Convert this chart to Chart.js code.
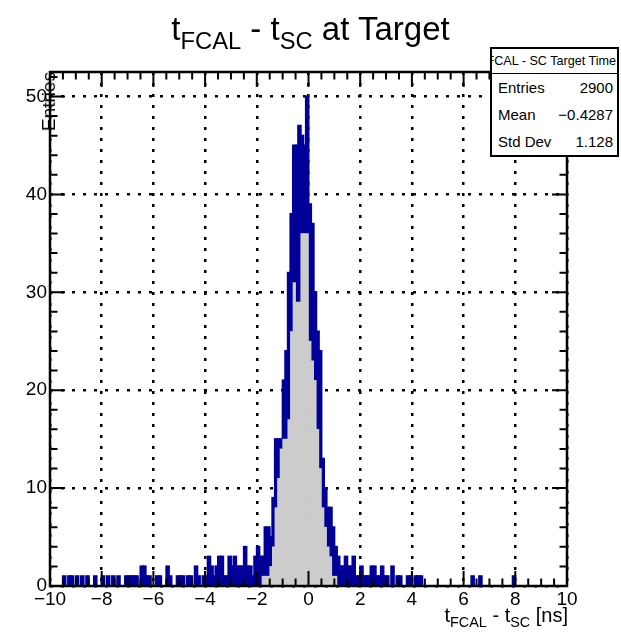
<!DOCTYPE html>
<html>
<head>
<meta charset="utf-8">
<script src="https://cdn.jsdelivr.net/npm/chart.js@4.4.1/dist/chart.umd.min.js"></script>
<style>
  html, body { margin: 0; padding: 0; background: #fff; }
  #wrap { position: relative; width: 621px; height: 636px; font-family: 'Liberation Sans', Arial, sans-serif; color: #000; }
  #c { position: absolute; left: 0; top: 0; }
  .txt { position: absolute; white-space: nowrap; }
  .txt sub { font-size: 0.72em; vertical-align: -0.38em; line-height: 0; }
  #title { left: 0; width: 621px; top: 12px; text-align: center; font-size: 33px; line-height: 33px; }
  #xtitle { right: 53px; top: 605px; font-size: 20px; line-height: 20px; }
  #ytitle { left: 39px; top: 72px; font-size: 19px; line-height: 19px; writing-mode: vertical-rl; transform: rotate(180deg); }
  #stats { position: absolute; left: 490px; top: 47px; width: 125px; height: 106px; border: 2px solid #000; background: #fff; }
  #stats .hdr { height: 24px; border-bottom: 1px solid #000; display: flex; justify-content: flex-end; align-items: center; overflow: hidden; font-size: 12.6px; padding-right: 1px; white-space: nowrap; }
  #stats .hdr span { flex: none; }
  #stats .row { height: 27px; display: flex; justify-content: space-between; align-items: center; font-size: 15px; padding: 0 4px 0 6px; }
</style>
</head>
<body>
<div id="wrap">
  <canvas id="c" width="621" height="636"></canvas>
  <div class="txt" id="title">t<sub>FCAL</sub> - t<sub>SC</sub> at Target</div>
  <div class="txt" id="xtitle">t<sub>FCAL</sub> - t<sub>SC</sub> [ns]</div>
  <div class="txt" id="ytitle">Entries</div>
  <div id="stats">
    <div class="hdr"><span>FCAL - SC Target Time</span></div>
    <div class="row"><span>Entries</span><span id="sEntries"></span></div>
    <div class="row"><span>Mean</span><span id="sMean"></span></div>
    <div class="row"><span>Std Dev</span><span id="sStd"></span></div>
  </div>
</div>
<script>
// histogram, columns of 0.1 ns from -10 to 10
// hiCounts = top of the blue outline, loCounts = top of the grey fill
const binStart = -10;
const binWidth = 0.1;
const hiCounts = [
  0,0,0,0,0, 1,0,1,1,0, 1,0,1,0,1, 0,0,1,0,0,
  1,0,1,0,1, 0,1,0,0,1, 1,1,1,1,0, 2,2,1,1,0,
  0,1,1,0,0, 2,1,0,0,1, 1,1,0,1,1, 0,2,1,0,1,
  1,3,2,1,2, 3,3,1,1,3, 2,3,2,2,2, 4,2,2,1,3,
  4,3,3,6,6, 5,9,15,15,15, 21,24,32,38,45, 45,47,46,45,50,
  39,37,30,26,24, 13,10,8,8,6, 4,3,2,2,3, 2,2,3,1,1,
  2,1,1,1,2, 2,1,1,2,1, 1,0,2,0,1, 1,0,0,1,1,
  0,1,1,1,0, 0,0,0,0,0, 0,0,0,0,0, 0,0,0,0,0,
  0,0,0,1,0, 0,1,0,0,0, 0,0,0,0,0, 0,0,0,0,1,
  0,0,0,0,0, 0,0,0,0,0, 0,0,0,0,0, 0,0,0,0,0
];
const loCounts = [
  0,0,0,0,0, 0,0,0,0,0, 0,0,0,0,0, 0,0,0,0,0,
  0,0,0,0,0, 0,0,0,0,0, 0,0,0,0,0, 0,0,0,0,0,
  0,0,0,0,0, 0,0,0,0,0, 0,0,0,0,0, 0,0,0,0,0,
  0,0,0,0,0, 0,0,0,0,0, 0,0,0,0,0, 0,0,0,0,0,
  0,0,1,1,1, 2,4,8,11,14, 15,15,17,26,31, 29,29,36,36,36,
  25,23,21,16,12, 8,6,4,3,1, 1,0,0,0,0, 0,0,0,0,0,
  0,0,0,0,0, 0,0,0,0,0, 0,0,0,0,0, 0,0,0,0,0,
  0,0,0,0,0, 0,0,0,0,0, 0,0,0,0,0, 0,0,0,0,0,
  0,0,0,0,0, 0,0,0,0,0, 0,0,0,0,0, 0,0,0,0,0,
  0,0,0,0,0, 0,0,0,0,0, 0,0,0,0,0, 0,0,0,0,0
];
const xMin = -10, xMax = 10;
const yMin = 0, yMax = 52.5;
const statEntries = '2900';
const statMean = '\u22120.4287';
const statStd = '1.128';

document.getElementById('sEntries').textContent = statEntries;
document.getElementById('sMean').textContent = statMean;
document.getElementById('sStd').textContent = statStd;

const centers = hiCounts.map((_, i) => binStart + (i + 0.5) * binWidth);
const fontFam = "'Liberation Sans', Arial, sans-serif";
const fmt = v => (v < 0 ? '\u2212' + Math.abs(v) : '' + v);

// frame and inner ticks like ROOT
const rootAxes = {
  id: 'rootAxes',
  afterDatasetsDraw(chart) {
    const { ctx, chartArea: a, scales: { x, y } } = chart;
    ctx.save();
    ctx.strokeStyle = '#000';
    ctx.lineWidth = 2;
    ctx.beginPath();
    for (let k = 0; k <= 40; k++) {
      const px = x.getPixelForValue(xMin + k * 0.5);
      const len = k % 4 === 0 ? 15 : 7.5;
      ctx.moveTo(px, a.bottom); ctx.lineTo(px, a.bottom - len);
      ctx.moveTo(px, a.top); ctx.lineTo(px, a.top + len);
    }
    for (let k = 0; k * 2 <= yMax; k++) {
      const py = y.getPixelForValue(k * 2);
      const len = k % 5 === 0 ? 15 : 7.5;
      ctx.moveTo(a.left, py); ctx.lineTo(a.left + len, py);
      ctx.moveTo(a.right, py); ctx.lineTo(a.right - len, py);
    }
    ctx.stroke();
    ctx.lineWidth = 2.5;
    ctx.strokeRect(a.left, a.top, a.right - a.left, a.bottom - a.top);
    ctx.restore();
  }
};

const ctx = document.getElementById('c').getContext('2d');
const chart = new Chart(ctx, {
  type: 'bar',
  data: {
    datasets: [
      {
        label: 'fill',
        data: loCounts.map((v, i) => ({ x: centers[i], y: v })),
        backgroundColor: '#cccccc',
        borderWidth: 0,
        grouped: false,
        barPercentage: 1,
        categoryPercentage: 1
      },
      {
        label: 'outline',
        data: hiCounts.map((v, i) => ({ x: centers[i], y: [loCounts[i], v] })),
        backgroundColor: '#000099',
        borderWidth: 0,
        inflateAmount: 1,
        grouped: false,
        barPercentage: 1,
        categoryPercentage: 1
      }
    ]
  },
  options: {
    responsive: false,
    devicePixelRatio: 1,
    animation: false,
    events: [],
    layout: { padding: { left: 0, top: 72, right: 54, bottom: 0 } },
    plugins: { legend: { display: false }, tooltip: { enabled: false }, title: { display: false } },
    scales: {
      x: {
        type: 'linear',
        min: xMin,
        max: xMax,
        offset: false,
        grid: { offset: false, color: '#000', lineWidth: 2.5, drawTicks: false },
        border: { display: false, dash: [3, 8] },
        ticks: {
          stepSize: 2, autoSkip: false, maxRotation: 0, includeBounds: false,
          color: '#000', padding: 2, font: { family: fontFam, size: 19 },
          callback: fmt
        },
        afterFit: s => { s.height = 50; }
      },
      y: {
        min: yMin,
        max: yMax,
        grid: { color: '#000', lineWidth: 2.5, drawTicks: false },
        border: { display: false, dash: [3, 8] },
        ticks: {
          stepSize: 10, includeBounds: false,
          color: '#000', padding: 3, font: { family: fontFam, size: 19 },
          callback: fmt
        },
        afterFit: s => { s.width = 50; }
      }
    }
  },
  plugins: [rootAxes]
});
</script>
</body>
</html>
